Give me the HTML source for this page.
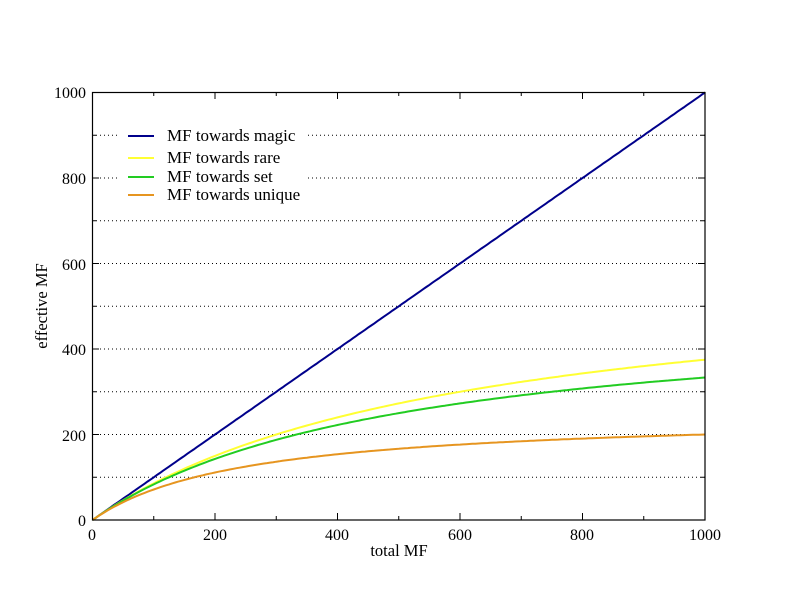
<!DOCTYPE html>
<html><head><style>body{margin:0;background:#fff}svg{display:block}text{font-family:"Liberation Serif",serif;fill:#000}</style></head>
<body>
<svg id="s" width="792" height="612" xmlns="http://www.w3.org/2000/svg">
<g id="grid"></g>
<rect x="118" y="120" width="190" height="92" fill="#fff"/>
<g id="ticks" stroke="#000" stroke-width="1"></g>
<g id="curves" fill="none" stroke-width="2"></g>
<rect x="92.5" y="92.5" width="612.5" height="427.5" fill="none" stroke="#000" stroke-width="1.2"/>
<g font-size="16" text-anchor="end">
<text x="86" y="526">0</text><text x="86" y="441">200</text><text x="86" y="355">400</text><text x="86" y="270">600</text><text x="86" y="184">800</text><text x="86" y="98">1000</text>
</g>
<g font-size="16" text-anchor="middle">
<text x="92" y="540">0</text><text x="215" y="540">200</text><text x="337" y="540">400</text><text x="460" y="540">600</text><text x="582" y="540">800</text><text x="705" y="540">1000</text>
<text x="399" y="556" font-size="16.5">total MF</text>
</g>
<text font-size="16.5" text-anchor="middle" transform="translate(47,306) rotate(-90)">effective MF</text>
<g stroke-width="2">
<line x1="128" y1="136" x2="154" y2="136" stroke="#00008b"/>
<line x1="128" y1="158" x2="154" y2="158" stroke="#ffff33"/>
<line x1="128" y1="177" x2="154" y2="177" stroke="#22cc22"/>
<line x1="128" y1="195" x2="154" y2="195" stroke="#e69520"/>
</g>
<g font-size="17">
<text x="167" y="141">MF towards magic</text>
<text x="167" y="163">MF towards rare</text>
<text x="167" y="182">MF towards set</text>
<text x="167" y="200">MF towards unique</text>
</g>
</svg>
<script>
const X=v=>92.5+v*0.6125, Y=v=>520-v*0.4275, ns="http://www.w3.org/2000/svg";
const g=document.getElementById('grid');
for(let v=100;v<1000;v+=100){const l=document.createElementNS(ns,'line');l.setAttribute('x1',92);l.setAttribute('x2',705);l.setAttribute('y1',Y(v));l.setAttribute('y2',Y(v));l.setAttribute('stroke','#000');l.setAttribute('stroke-dasharray','1 3');g.appendChild(l);}
const t=document.getElementById('ticks');
function ln(a,b,c,d){const l=document.createElementNS(ns,'line');l.setAttribute('x1',a);l.setAttribute('y1',b);l.setAttribute('x2',c);l.setAttribute('y2',d);t.appendChild(l);}
for(let v=100;v<1000;v+=100){const L=v%200?4:7;ln(X(v),520,X(v),520-L);ln(X(v),92,X(v),92+L);ln(92,Y(v),92+L,Y(v));ln(705,Y(v),705-L,Y(v));}
const c=document.getElementById('curves');
[[null,'#00008b'],[600,'#ffff33'],[500,'#22cc22'],[250,'#e69520']].forEach(([k,col])=>{let p='';for(let m=0;m<=1000;m+=5){const e=k?m*k/(m+k):m;p+=(p?' L':'M')+X(m).toFixed(1)+' '+Y(e).toFixed(1);}const e=document.createElementNS(ns,'path');e.setAttribute('d',p);e.setAttribute('stroke',col);c.appendChild(e);});
</script>
</body></html>
